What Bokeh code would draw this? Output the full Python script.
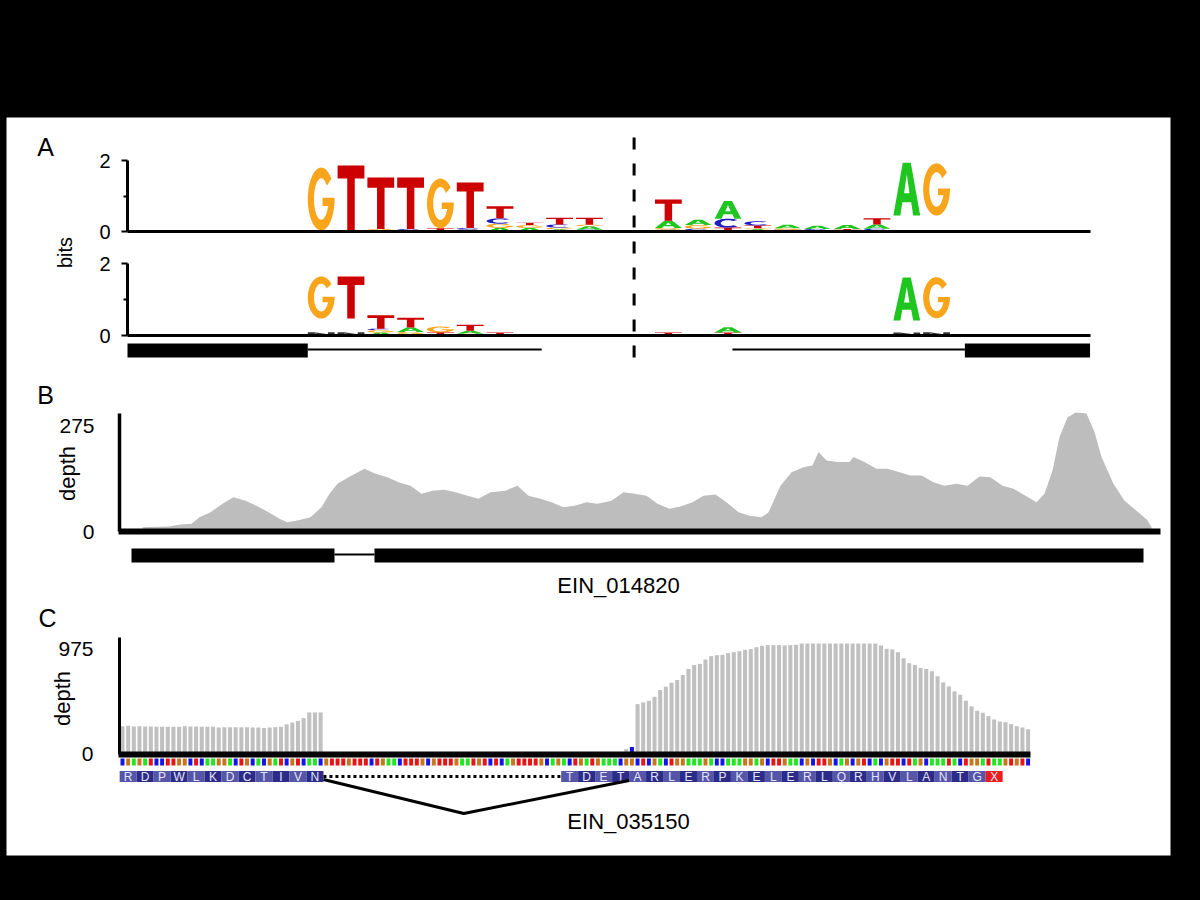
import math
import numpy as np
from bokeh.plotting import figure
from bokeh.models import Range1d, LinearAxis, FixedTicker
from bokeh.core.properties import value
from bokeh.embed import file_html
from bokeh.resources import INLINE

try:
    from bokeh.models import GlobalInlineStyleSheet
except Exception:
    GlobalInlineStyleSheet = None

# ============================ DATA ============================
# Panel A: sequence logos; each column = stack (bottom -> top) of (letter, bits); " " = empty space
logo_top_5ss = [
    [], [], [("A", 0.03)], [("A", 0.04)], [], [],
    [("A", 0.03), ("G", 1.77)],
    [("C", 0.03), ("T", 1.83)],
    [("A", 0.04), ("G", 0.03), ("T", 1.45)],
    [("A", 0.04), ("C", 0.03), ("T", 1.45)],
    [("A", 0.04), ("T", 0.05), ("G", 1.40)],
    [("A", 0.05), ("C", 0.05), ("T", 1.28)],
    [("A", 0.10), ("G", 0.12), ("C", 0.15), ("T", 0.34)],
    [("A", 0.10), ("G", 0.08), ("T", 0.07)],
    [("A", 0.06), ("G", 0.05), ("C", 0.09), ("T", 0.19)],
    [("C", 0.05), ("A", 0.10), ("G", 0.04), ("T", 0.20)],
    [],
]
logo_top_3ss = [
    [("C", 0.05), ("G", 0.05), ("A", 0.20), ("T", 0.60)],
    [("C", 0.08), ("G", 0.10), ("A", 0.15)],
    [("G", 0.03), ("T", 0.08), ("C", 0.25), ("A", 0.50)],
    [("A", 0.06), ("G", 0.03), ("T", 0.08), ("C", 0.12)],
    [("T", 0.05), ("G", 0.04), ("A", 0.10)],
    [("T", 0.04), ("C", 0.03), ("A", 0.09)],
    [("G", 0.04), ("T", 0.03), ("A", 0.11)],
    [("C", 0.08), ("A", 0.12), ("T", 0.17)],
    [("C", 0.04), (" ", 0.41), ("A", 1.49)],
    [("C", 0.04), (" ", 0.41), ("G", 1.47)],
    [("A", 0.03)],
]
logo_bot_5ss = [
    [], [], [], [], [], [],
    [("N", 0.09), (" ", 0.38), ("G", 1.17)],
    [("N", 0.09), (" ", 0.38), ("T", 1.17)],
    [("A", 0.08), ("G", 0.07), ("C", 0.04), ("T", 0.37)],
    [("C", 0.04), ("G", 0.06), ("A", 0.12), ("T", 0.27)],
    [("A", 0.03), ("T", 0.06), ("G", 0.16)],
    [("G", 0.05), ("A", 0.08), ("T", 0.17)],
    [("A", 0.02), ("T", 0.06)],
    [], [], [], [],
]
logo_bot_3ss = [
    [("G", 0.02), ("T", 0.06)],
    [],
    [("C", 0.03), ("T", 0.05), ("A", 0.15)],
    [], [], [], [], [],
    [("N", 0.08), (" ", 0.34), ("A", 1.19)],
    [("N", 0.09), (" ", 0.39), ("G", 1.14)],
]
bits_ticks = [0, 2]
logo_split = 17.0          # boundary (column units) between 5' and 3' logos
logo_3ss_first = 18.15     # centre of first 3' column
logo_end = 32.3
exons_A = [(0.0, 6.05), (28.1, 32.3)]
introns_A = [(6.05, 13.9), (20.3, 28.1)]

# Panel B: coverage depth along EIN_014820 (bp)
cov_pos = [23, 49, 61, 72, 80, 91, 103, 114, 126, 137, 149, 160, 168, 179, 191, 202, 210, 218, 229, 245,
           256, 268, 279, 291, 302, 313, 325, 336, 348, 359, 371, 386, 398, 409, 421, 432, 444, 455, 467, 478,
           492, 504, 515, 527, 538, 550, 561, 573, 584, 596, 607, 619, 630, 642, 649, 661, 672, 684, 693, 699,
           707, 718, 730, 734, 745, 757, 768, 780, 791, 802, 814, 825, 837, 848, 860, 871, 883, 894, 906, 917,
           925, 933, 940, 948, 956, 967, 975, 982, 994, 1005, 1017, 1028, 1032]
cov_depth = [11, 13, 18, 20, 37, 50, 72, 89, 80, 67, 50, 33, 24, 29, 37, 63, 98, 124, 141, 163,
             150, 141, 128, 119, 98, 106, 108, 102, 93, 85, 102, 106, 119, 93, 85, 76, 63, 67, 76, 72,
             80, 102, 98, 93, 72, 59, 65, 76, 93, 96, 76, 50, 41, 37, 50, 119, 154, 167, 171, 206,
             184, 180, 180, 193, 180, 163, 163, 154, 145, 145, 128, 119, 124, 119, 143, 141, 119, 111, 93, 76,
             98, 158, 245, 296, 309, 306, 258, 193, 124, 80, 54, 29, 11]
depth_ticks_B = [0, 275]
exons_B = [(12, 215), (255, 1024)]
introns_B = [(215, 255)]
gene_B = "EIN_014820"

# Panel C: per-nucleotide depth along EIN_035150
depth_C_exon1 = [257, 260, 254, 257, 254, 254, 251, 251, 251, 251, 251, 257, 254, 254, 251, 251, 251, 245,
                 248, 248, 248, 248, 248, 245, 245, 241, 245, 248, 251, 275, 291, 306, 331, 384, 384, 384]
depth_C_junction = [46, 65]
depth_C_exon2 = [461, 477, 492, 529, 591, 622, 659, 684, 730, 786, 823, 833, 873, 904, 913, 916, 932, 941,
                 950, 963, 969, 987, 1000, 1006, 1006, 1006, 1003, 1006, 1009, 1021, 1021, 1021, 1021, 1021,
                 1021, 1021, 1021, 1021, 1021, 1021, 1021, 1021, 1021, 1003, 972, 966, 941, 885, 839, 823,
                 795, 786, 765, 718, 662, 625, 579, 548, 492, 440, 399, 381, 350, 319, 300, 294, 276, 257,
                 245, 229]
depth_ticks_C = [0, 975]
exon2_start_nt = 91
junction_nt = [89, 90]
nt_exon1 = "CGAGATCCTTGGCTCAAGGACTGCACGATCGTCAAC"
nt_intron = "GTTTGTTTCTGAACTTTGCGTTTGAATGTCTCAGTTTTGCAG"
nt_tdet = "ACTGATGAAACG"
nt_exon2 = "GCTCGACTGGAAAGACCAAAGGAGCTTGAACGCTTGCAGCGTCACGTTCTAGCAAATACTGGATAA"
nt_tail = "GTGTC"
aa_left = "RDPWLKDCTIVN"
aa_right = "TDETARLERPKELERLQRHVLANTGX"
aa_right_start_nt = 78
model_intron_nt = (36, 78)      # annotated intron (dotted)
rna_junction_nt = (36, 90)      # RNA-seq supported splice junction
gene_C = "EIN_035150"

panel_letters = ["A", "B", "C"]

# ============================ STYLE / LAYOUT ============================
FONT = "Liberation Sans"
LOGO_COLORS = {"A": "#1fc61f", "C": "#1c1cc4", "G": "#f9a51b", "T": "#cc0000", "N": "#333333"}
NT_COLORS = {"A": "#22e622", "C": "#1414e6", "G": "#c8761e", "T": "#e61414"}
BAR_GREY = "#c0c0c0"

FR_L, FR_R, FR_T, FR_B = 6, 1170, 117, 855   # white area (page px)


def xr(v0, p0, v1, p1):
    k = (v1 - v0) / (p1 - p0)
    return Range1d(start=v0 + k * (FR_L - p0), end=v0 + k * (FR_R - p0))


def yr(v0, p0, v1, p1):
    k = (v1 - v0) / (p1 - p0)
    return Range1d(start=v0 + k * (FR_B - p0), end=v0 + k * (FR_T - p0))


p = figure(width=1184, height=884, output_backend="svg", toolbar_location=None,
           x_range=Range1d(FR_L, FR_R), y_range=Range1d(FR_B, FR_T),
           x_axis_location=None, y_axis_location=None,
           min_border_left=FR_L, min_border_right=1184 - FR_R, min_border_top=FR_T,
           min_border_bottom=884 - FR_B,
           background_fill_color="white", border_fill_color="black", outline_line_color=None)
p.xgrid.grid_line_color = None
p.ygrid.grid_line_color = None
if GlobalInlineStyleSheet is not None:
    p.stylesheets = [GlobalInlineStyleSheet(css="html, body { background-color: #000000; }")]

p.extra_x_ranges = {
    "ax": xr(0, 127, 1, 156.8),
    "bx": xr(0, 119, 1, 120),
    "cx": xr(0, 122, 1, 127.66),
}
p.extra_y_ranges = {
    "at": yr(0, 231, 2, 160),
    "ab": yr(0, 335, 2, 263),
    "by": yr(0, 531, 275, 425),
    "cy": yr(0, 753.5, 975, 648),
}


# ---------- letter shapes (unit box) ----------
def _arc(rx, ry, a0, a1, n=40):
    t = np.radians(np.linspace(a0, a1, n))
    return list(zip(0.5 + rx * np.cos(t), 0.5 + ry * np.sin(t)))


def letter_rings(ch):
    if ch == "T":
        return [[(0, 1), (1, 1), (1, 0.8), (0.64, 0.8), (0.64, 0), (0.36, 0), (0.36, 0.8), (0, 0.8)]]
    if ch == "A":
        return [[(0, 0), (0.35, 1), (0.65, 1), (1, 0), (0.74, 0), (0.665, 0.25), (0.335, 0.25), (0.26, 0)],
                [(0.40, 0.42), (0.60, 0.42), (0.5, 0.78)]]
    if ch == "N":
        return [[(0, 0), (0, 1), (0.25, 1), (0.75, 0.4), (0.75, 1), (1, 1), (1, 0), (0.75, 0),
                 (0.25, 0.6), (0.25, 0)]]
    if ch == "C":
        return [_arc(0.5, 0.5, 45, 315) + _arc(0.27, 0.33, 315, 45)]
    if ch == "G":
        return [_arc(0.5, 0.5, 40, 355) + [(1.0, 0.52), (0.55, 0.52), (0.55, 0.39), (0.77, 0.39)]
                + _arc(0.27, 0.33, 338, 40)]
    return []


def draw_logo(columns, first_center, yname, width=0.9):
    xs, ys, cols = [], [], []
    for i, stack in enumerate(columns):
        cx = first_center + i
        y0 = 0.0
        for ch, h in stack:
            if ch.strip():
                rings = letter_rings(ch)
                xs.append([[[cx - width / 2 + width * u for u, v in ring] for ring in rings]])
                ys.append([[[y0 + h * v for u, v in ring] for ring in rings]])
                cols.append(LOGO_COLORS[ch])
            y0 += h
    p.multi_polygons(xs=xs, ys=ys, fill_color=cols, line_color=None,
                     x_range_name="ax", y_range_name=yname)


def tick_axis(xname, yname, loc, bounds, ticks, minor, tick_out, standoff, width, size="21px"):
    ax = LinearAxis(x_range_name=xname, y_range_name=yname, fixed_location=loc, bounds=bounds,
                    ticker=FixedTicker(ticks=ticks, minor_ticks=minor),
                    axis_line_width=width, axis_line_color="black",
                    major_tick_line_width=2, major_tick_out=tick_out, major_tick_in=0,
                    major_tick_line_color="black" if tick_out else None,
                    minor_tick_line_width=2, minor_tick_out=4, minor_tick_in=0,
                    minor_tick_line_color="black" if minor else None,
                    major_label_standoff=standoff, major_label_text_font=FONT,
                    major_label_text_font_size=size, major_label_text_color="black")
    p.add_layout(ax, "left")


def base_axis(xname, yname, bounds, width):
    ax = LinearAxis(x_range_name=xname, y_range_name=yname, fixed_location=0, bounds=bounds,
                    ticker=FixedTicker(ticks=[]), axis_line_width=width, axis_line_color="black",
                    major_tick_line_color=None, minor_tick_line_color=None,
                    major_label_text_font_size="0px")
    p.add_layout(ax, "below")


def txt(x, y, s, size, angle=0.0, color="black", xname="default", yname="default", align="center"):
    p.text(x=x, y=y, text=s, text_font=value(FONT), text_font_size=size, text_color=color,
           text_align=align, text_baseline="middle", angle=angle,
           x_range_name=xname, y_range_name=yname)


# ============================ PANEL A ============================
draw_logo(logo_top_5ss, 0.5, "at")
draw_logo(logo_top_3ss, logo_3ss_first, "at")
draw_logo(logo_bot_5ss, 0.5, "ab")
draw_logo(logo_bot_3ss, logo_3ss_first, "ab")
for yname in ("at", "ab"):
    tick_axis("ax", yname, 0, (0, 2), bits_ticks, [1], 6, 11, 3, size="20px")
    base_axis("ax", yname, (0, logo_end), 3)

p.hbar(y=[350] * len(exons_A), left=[a for a, b in exons_A], right=[b for a, b in exons_A],
       height=14, fill_color="black", line_color=None, x_range_name="ax")
p.segment(x0=[a for a, b in introns_A], x1=[b for a, b in introns_A],
          y0=[349] * len(introns_A), y1=[349] * len(introns_A),
          line_color="black", line_width=2, x_range_name="ax")
p.segment(x0=[logo_split], x1=[logo_split], y0=[137], y1=[357], line_color="black",
          line_width=3, line_dash="12 14", x_range_name="ax")

# ============================ PANEL B ============================
p.varea(x=cov_pos, y1=[0] * len(cov_pos), y2=cov_depth, fill_color="#bdbdbd",
        x_range_name="bx", y_range_name="by")
tick_axis("bx", "by", 0, (0, 306), depth_ticks_B, [], 0, 25, 3.5)
base_axis("bx", "by", (-1, 1041), 6)
p.hbar(y=[555] * len(exons_B), left=[a for a, b in exons_B], right=[b for a, b in exons_B],
       height=14, fill_color="black", line_color=None, x_range_name="bx")
p.segment(x0=[a for a, b in introns_B], x1=[b for a, b in introns_B],
          y0=[554] * len(introns_B), y1=[554] * len(introns_B),
          line_color="black", line_width=2, x_range_name="bx")

# ============================ PANEL C ============================
idx_exon1 = list(range(len(depth_C_exon1)))
idx_exon2 = list(range(exon2_start_nt, exon2_start_nt + len(depth_C_exon2)))
p.vbar(x=idx_exon1, top=depth_C_exon1, width=0.72, fill_color=BAR_GREY, line_color=None,
       x_range_name="cx", y_range_name="cy")
p.vbar(x=idx_exon2, top=depth_C_exon2, width=0.72, fill_color=BAR_GREY, line_color=None,
       x_range_name="cx", y_range_name="cy")
p.vbar(x=junction_nt, top=depth_C_junction, width=0.72, fill_color=[BAR_GREY, "#1010ee"],
       line_color=None, x_range_name="cx", y_range_name="cy")
tick_axis("cx", "cy", -0.53, (0, 1077), depth_ticks_C, [], 0, 26, 3)
nt_all = nt_exon1 + nt_intron + nt_tdet + nt_exon2 + nt_tail
base_axis("cx", "cy", (-0.72, len(nt_all) - 0.6), 6)

# nucleotide strip
p.rect(x=list(range(len(nt_all))), y=[761.5] * len(nt_all), width=0.7, height=7,
       fill_color=[NT_COLORS[c] for c in nt_all], line_color=None, x_range_name="cx")

# amino-acid boxes
aa_x, aa_txt, aa_col = [], [], []
for start, seq in ((0, aa_left), (aa_right_start_nt, aa_right)):
    for k, a in enumerate(seq):
        aa_x.append(start + 3 * k + 1)
        aa_txt.append(a)
        if a == "X":
            aa_col.append("#ee1c1c")
        else:
            aa_col.append("#5656a8" if k % 2 == 0 else "#2c2c88")
p.rect(x=aa_x, y=[776] * len(aa_x), width=3, height=11, fill_color=aa_col, line_color=None,
       x_range_name="cx")
p.text(x=aa_x, y=[776.5] * len(aa_x), text=aa_txt, text_font=value(FONT), text_font_size="12px",
       text_color="#e4e4fa", text_align="center", text_baseline="middle", x_range_name="cx")

# annotated intron (dotted) and RNA-seq junction
p.segment(x0=[model_intron_nt[0] - 0.5], x1=[model_intron_nt[1] - 0.5], y0=[776], y1=[776],
          line_color="black", line_width=3, line_dash="3 3", x_range_name="cx")
d0, d1 = rna_junction_nt
p.line(x=[d0 - 0.5, d0 + 0.45 * (d1 - d0), d1 - 0.5], y=[779, 813, 780], line_color="black",
       line_width=3, x_range_name="cx")

# ============================ TEXTS ============================
txt([45, 45, 47], [146, 394, 617], panel_letters, "25px")
txt([64], [252], ["bits"], "20px", angle=math.pi / 2)
txt([67], [473], ["depth"], "22px", angle=math.pi / 2)
txt([62], [698], ["depth"], "22px", angle=math.pi / 2)
txt([618], [585], [gene_B], "22px")
txt([628], [821], [gene_C], "22px")

open("out.html", "w").write(file_html(p, INLINE))
